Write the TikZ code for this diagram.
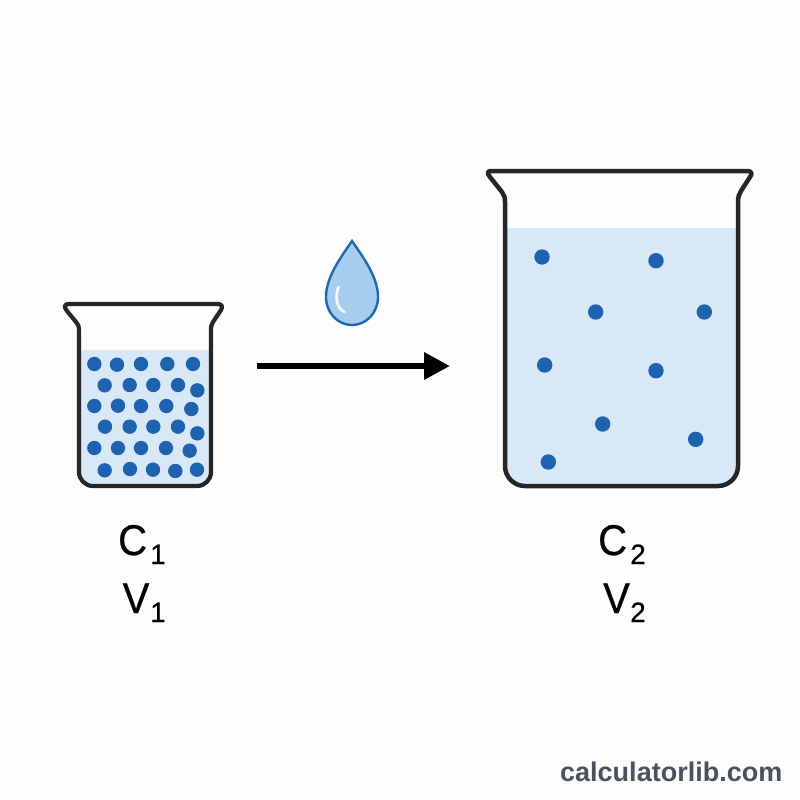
\documentclass[tikz,border=0pt]{standalone}
\usepackage{fontspec}
\setmainfont{Liberation Sans}
\newfontfamily\labelfont[FakeBold=0.6]{Liberation Sans}
\newfontfamily\symbolfont[FakeBold=0.6,FakeStretch=0.93]{Liberation Sans}
\definecolor{liquid}{HTML}{D9E8F7}
\definecolor{solute}{HTML}{1E62B0}
\definecolor{glass}{HTML}{262626}
\definecolor{dropfill}{HTML}{A6CCEE}
\definecolor{dropline}{HTML}{1F68B2}
\definecolor{brandgrey}{HTML}{4A5160}
\tikzset{
  glasswall/.style={draw=glass,line width=4.2pt,line join=round},
  solutedot/.style={fill=solute},
  symbol/.style={font=\symbolfont\fontsize{43}{43}\selectfont,text=black,inner sep=0pt,anchor=base west},
  subscript/.style={font=\labelfont\fontsize{28}{28}\selectfont,text=black,inner sep=0pt,anchor=base west},
}
\begin{document}
\begin{tikzpicture}[x=1pt,y=-1pt]
\useasboundingbox[fill=white!99.3!black] (0,0) rectangle (800,800);

% Small beaker: concentrated solution
\fill[liquid] (79,350) -- (211,350) -- (211,472) arc[start angle=0,end angle=-90,radius=14pt]
  -- (93,486) arc[start angle=-90,end angle=-180,radius=14pt] -- cycle;
\begin{scope}[shift={(50,290)},x=1/3*1pt,y=-1/3*1pt]
  \foreach \px/\py in {133/222,201/224,273/222,352/222,429/222,
                       164/286,239/285,310/285,384/285,442/301,
                       133/348,204/347,273/348,349/348,424/357,
                       165/410,239/410,310/410,384/410,442/430,
                       133/474,204/474,273/474,348/474,419/482,
                       164/541,240/537,309/539,376/543,441/539}
    \fill[solutedot] (\px,\py) circle[radius=7.2pt];
\end{scope}
\draw[glasswall] (79,400) -- (79,331) .. controls (79,326) and (78,324) .. (76,322)
  -- (67,311) .. controls (63,306) and (65,304) .. (69,304)
  -- (218,304) .. controls (222,304) and (223,307) .. (221,310)
  -- (213,322) .. controls (211,325) and (211,327) .. (211,332)
  -- (211,472) arc[start angle=0,end angle=-90,radius=14pt]
  -- (93,486) arc[start angle=-90,end angle=-180,radius=14pt] -- cycle;

% Large beaker: diluted solution
\fill[liquid] (505,228) -- (738,228) -- (738,466) arc[start angle=0,end angle=-90,radius=20pt]
  -- (525,486) arc[start angle=-90,end angle=-180,radius=20pt] -- cycle;
\begin{scope}[shift={(480,160)},x=1/3*1pt,y=-1/3*1pt]
  \foreach \px/\py in {186/291,528/302,347/456,673/456,194/615,528/632,368/792,647/838,205/906}
    \fill[solutedot] (\px,\py) circle[radius=7.7pt];
\end{scope}
\draw[glasswall,line width=4.5pt] (505,300) -- (505,202) .. controls (505,197) and (504,195) .. (502,192)
  -- (490,177) .. controls (486,172) and (488,171) .. (492,171)
  -- (747,171) .. controls (751,171) and (753,173) .. (750,177)
  -- (741,191) .. controls (739,194) and (738,197) .. (738,202)
  -- (738,466) arc[start angle=0,end angle=-90,radius=20pt]
  -- (525,486) arc[start angle=-90,end angle=-180,radius=20pt] -- cycle;

% Water drop with its highlight
\draw[fill=dropfill,draw=dropline,line width=2.4pt,line join=miter]
  (352,241) .. controls (341,257) and (326,277) .. (326,297)
  .. controls (326,313) and (338,325) .. (352,325)
  .. controls (366,325) and (378,313) .. (378,297)
  .. controls (378,277) and (363,257) .. (352,241) -- cycle;
\draw[white!85!dropfill,line width=2.8pt,line cap=round]
  (338.5,287) .. controls (335,296) and (336,308) .. (344.5,312);

% Dilution arrow
\coordinate (arrowtail) at (257,366);
\coordinate (arrowtip) at (449.5,366);
\coordinate (headbase) at (424,366);
\draw[line width=5.4pt,black] (arrowtail) -- (headbase);
\fill[black] (arrowtip) -- (424,352) -- (424,380) -- cycle;

% Concentration and volume labels
\node[symbol] (cone) at (118,555) {C};
\node[subscript] (conesub) at (150,564) {1};
\node[symbol] (vone) at (122.5,613) {V};
\node[subscript] (vonesub) at (150,622) {1};
\node[symbol] (ctwo) at (598,555) {C};
\node[subscript] (ctwosub) at (630,564) {2};
\node[symbol] (vtwo) at (603,613) {V};
\node[subscript] (vtwosub) at (630,622) {2};

% Site name
\node[font=\bfseries\fontsize{27}{27}\selectfont,text=brandgrey,inner sep=0pt,anchor=base west] (site) at (560,781) {calculatorlib.com};
\end{tikzpicture}
\end{document}
